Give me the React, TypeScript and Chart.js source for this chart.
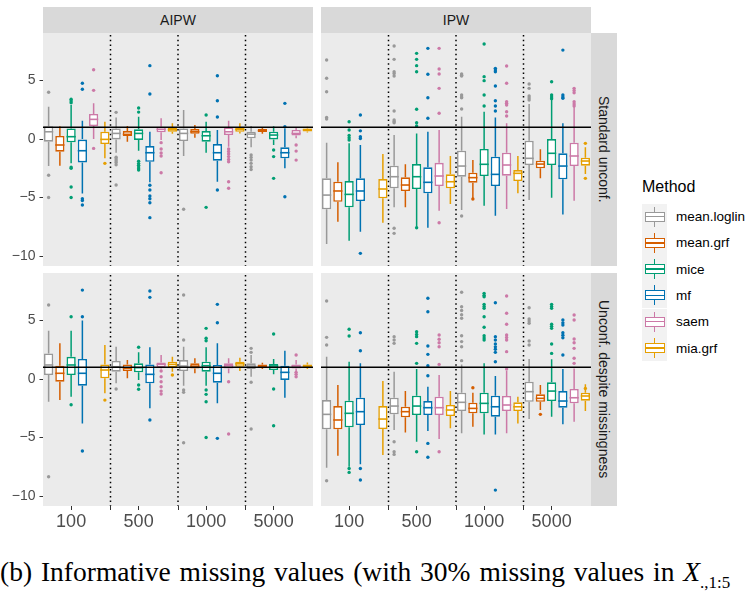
import React, { useEffect, useRef } from 'react';
import { Chart, registerables } from 'chart.js';

Chart.register(...registerables);

const sampleSizes = ['100', '500', '1000', '5000'];
const methods = ['mean.loglin', 'mean.grf', 'mice', 'mf', 'saem', 'mia.grf'];
const methodColors = ['#999999', '#D55E00', '#009E73', '#0072B2', '#CC79A7', '#E69F00'];
const estimators = ['AIPW', 'IPW'];
const scenarios = ['Standard unconf.', 'Unconf. despite missingness'];
const yTickValues = [-10, -5, 0, 5];
const trueEffect = 1;
const yMin = -10.85;
const yMax = 9.06;

// Box statistics per method (rows) and sample size (columns): [lower whisker, Q1, median, Q3, upper whisker]
const aipwStdBoxes = [
  [[-2.3, -0.23, 0.62, 1.1, 2.76], [-1.17, -0.03, 0.48, 0.91, 1.85], [-1.45, -0.17, 0.48, 0.91, 2.48], [-0.71, 0.06, 0.42, 0.63, 1.11]],
  [[-2.28, -1.08, -0.51, 0.26, 1.1], [-0.23, 0.26, 0.4, 0.68, 1.11], [0.1, 0.45, 0.62, 0.85, 1.2], [0.45, 0.6, 0.72, 0.85, 1.0]],
  [[-2.08, -0.28, 0.2, 0.91, 2.9], [-1.0, -0.08, 0.48, 0.83, 1.9], [-1.17, -0.23, 0.28, 0.68, 1.48], [-0.51, -0.03, 0.34, 0.63, 1.1]],
  [[-4.65, -2.0, -1.0, 0.0, 1.56], [-3.7, -1.94, -1.17, -0.6, 0.63], [-3.65, -1.85, -1.17, -0.43, 0.77], [-2.5, -1.65, -1.17, -0.71, 0.91]],
  [[0.0, 1.11, 1.68, 2.14, 3.05], [-0.08, 0.57, 0.83, 1.05, 1.77], [-0.66, 0.34, 0.62, 1.0, 1.56], [0.06, 0.3, 0.48, 0.77, 1.0]],
  [[-1.65, -0.43, -0.03, 0.62, 1.48], [0.45, 0.62, 0.8, 0.97, 1.34], [0.48, 0.62, 0.83, 1.0, 1.34], [0.55, 0.65, 0.78, 0.9, 1.05]],
];
const aipwStdOutliers = [
  [[4.0, -3.1, -5.0], [2.28, -1.55, -1.7, -1.85, -2.0, -2.2, -3.93], [-6.0], [-1.37, -1.57, -1.8, -2.08, -2.36, -2.6]],
  [[], [], [], []],
  [[3.1, 3.25, 3.4, -2.4, -2.5, -4.1, -5.0], [2.65, 2.3, -1.9, -2.1, -2.25, -2.4, -2.55, -2.65], [2.05, -5.84], [-0.94, -1.5, -3.36]],
  [[4.76, 4.25, -5.1, -5.25, -5.64], [6.27, 3.85, -3.95, -4.36, -4.87, -5.1, -5.44, -6.72], [5.41, 3.27, 1.88, -4.36], [1.05, 3.05, -4.93]],
  [[5.92, 4.16, -0.8], [-0.31, -0.85, -1.2, -1.45, -2.88], [-0.85, -1.07, -1.28, -1.5, -1.74, -1.94, -3.65, -4.2], [-0.51, -1.03, -1.8]],
  [[-2.08], [], [], []],
];

const aipwUncBoxes = [
  [[-1.94, 0.34, 1.2, 2.19, 4.13], [-0.37, 0.63, 1.05, 1.54, 2.76], [-0.57, 0.68, 1.11, 1.62, 2.76], [0.2, 0.85, 1.11, 1.34, 2.05]],
  [[-1.8, -0.23, 0.49, 1.14, 3.05], [0.06, 0.68, 0.91, 1.25, 1.62], [0.49, 0.91, 1.1, 1.34, 1.77], [0.85, 1.0, 1.1, 1.25, 1.4]],
  [[-1.51, 0.34, 1.2, 1.9, 4.13], [-0.08, 0.57, 0.97, 1.34, 2.28], [-0.57, 0.63, 1.14, 1.48, 2.71], [0.4, 0.77, 1.11, 1.28, 1.71]],
  [[-3.79, -0.57, 0.49, 1.71, 5.0], [-2.5, -0.37, 0.4, 1.25, 2.71], [-2.08, -0.31, 0.49, 1.2, 3.05], [-1.6, -0.08, 0.57, 1.14, 2.42]],
  [null, [0.9, 0.97, 1.25, 1.42, 2.05], [0.49, 0.91, 1.14, 1.34, 1.77], [0.63, 0.91, 1.11, 1.25, 1.62]],
  [[-1.22, 0.06, 0.77, 1.25, 2.9], [0.63, 0.97, 1.25, 1.48, 1.9], [0.68, 1.05, 1.3, 1.48, 1.82], [0.85, 0.95, 1.1, 1.25, 1.42]],
];
const aipwUncOutliers = [
  [[6.32, -8.35], [-0.85], [7.18, 3.33, -0.94, -1.14, -5.44], [2.62, 2.28, -0.28, -4.27]],
  [[], [], [], []],
  [[5.32, -2.2], [2.71, -0.51, -0.88], [4.33, 3.48, 3.27, -0.94, -1.31, -1.94, -5.0], [3.85, -0.85, -3.99]],
  [[7.6, 5.32, -6.15], [7.52, 6.98, -3.5], [6.38, 4.81, -5.07], []],
  [[], [0.68, 0.2, -0.23, -0.66, -1.03, -1.28], [-0.23, -4.7], [2.05, 0.57, 0.4, 0.2]],
  [[-1.8], [0.34], [], []],
];

const ipwStdBoxes = [
  [[-8.97, -6.01, -4.79, -3.36, -0.31], [-5.84, -4.21, -3.22, -2.28, 0.34], [-6.07, -3.22, -2.31, -1.0, 1.91], [-5.21, -2.22, -1.65, -0.14, 2.99]],
  [[-7.07, -5.36, -4.44, -3.65, -1.99], [-5.84, -4.44, -3.93, -3.27, -2.16], [-5.07, -3.73, -3.3, -2.88, -1.8], [-3.36, -2.5, -2.14, -1.85, -0.88]],
  [[-8.69, -5.84, -4.73, -3.59, -0.37], [-7.49, -4.27, -3.22, -2.14, 0.48], [-5.7, -3.16, -2.16, -0.85, 2.33], [-5.01, -2.22, -1.22, 0.0, 3.39]],
  [[-7.92, -5.3, -4.44, -3.36, -0.51], [-7.58, -4.64, -3.7, -2.42, 0.62], [-6.55, -4.02, -3.02, -1.51, 1.85], [-6.44, -3.44, -2.31, -1.22, 1.34]],
  [null, [-6.13, -4.02, -3.16, -2.03, 0.77], [-5.98, -3.13, -2.22, -1.17, 1.34], [-5.27, -2.31, -1.45, -0.31, 2.82]],
  [[-7.15, -5.07, -4.27, -3.42, -1.28], [-5.56, -4.21, -3.65, -3.02, -1.45], [-4.64, -3.59, -2.93, -2.65, -1.45], [-2.99, -2.28, -1.88, -1.6, -0.71]],
];
const ipwStdOutliers = [
  [[6.75, 5.19, 4.04, 1.85, 1.71], [7.95, 6.81, 5.75, 5.6, 5.38, 2.39, 1.62, 1.5, 1.39, -7.63, -8.06], [5.56, 5.45, 5.38, 3.76, 3.6, 3.53, 2.56, -6.58], [4.7, 4.33, 3.68, 3.5, 3.33]],
  [[], [], [-5.13], []],
  [[1.48, 0.77, 0.3, 0.1, -0.08], [7.32, 6.81, 6.27, 5.75, 2.54, 1.39, 1.11, -7.58], [8.12, 5.33, 4.99, 3.76, 2.82], [4.9, 3.76, 3.6, 3.45]],
  [[2.05, 0.7, 0.2, 0.05, -9.77], [7.75, 5.53, 3.53, 1.77], [6.04, 5.9, 5.75, 4.53, 3.27, 2.82, 2.39], [7.6, 3.76, 3.6, 3.48]],
  [[], [7.75, 5.98, 5.56, 4.33, 2.2, -7.15], [6.24, 4.76, 3.19, 3.05, 2.91, 2.33, 1.97], [4.33, 4.15, 3.96, 3.19, 3.0, 2.82]],
  [[], [], [], [-0.37, -3.36]],
];

const ipwUncBoxes = [
  [[-7.58, -4.3, -3.02, -1.8, 1.91], [-4.36, -3.02, -2.31, -1.6, 0.63], [-4.64, -2.74, -1.99, -1.17, 1.25], [-3.42, -1.94, -1.08, -0.23, 1.71]],
  [[-6.55, -4.3, -3.5, -2.31, -0.51], [-4.56, -3.27, -2.79, -2.37, -1.03], [-4.07, -2.93, -2.51, -2.02, -1.17], [-2.65, -1.94, -1.65, -1.31, -0.51]],
  [[-7.5, -4.13, -2.93, -1.85, 1.48], [-5.36, -3.08, -2.31, -1.42, 0.85], [-4.73, -2.93, -2.08, -1.17, 1.34], [-3.22, -1.88, -1.03, -0.28, 1.68]],
  [[-7.29, -3.93, -2.79, -1.6, 1.34], [-4.44, -3.08, -2.45, -1.88, -0.66], [-4.73, -3.22, -2.37, -1.42, 0.26], [-3.87, -2.45, -1.88, -1.03, 0.85]],
  [null, [-5.13, -3.08, -2.45, -1.51, 0.34], [-4.64, -2.74, -2.22, -1.45, 0.68], [-3.65, -2.08, -1.6, -0.85, 0.91]],
  [[-6.5, -4.27, -3.42, -2.31, -0.17], [-4.21, -3.16, -2.65, -2.22, -1.03], [-3.79, -2.74, -2.37, -1.99, -1.51], [-2.74, -1.85, -1.45, -1.17, -0.45]],
];
const ipwUncOutliers = [
  [[6.67, 3.56, 2.91, -8.69], [3.62, 3.33, 3.05, -5.36, -6.21, -6.44], [7.41, 6.18, 5.85, 5.5, 5.19, 3.7, 3.2, 2.76, 1.57], [6.09, 5.13, 4.95, 4.76, 3.25, 2.91]],
  [[], [], [-0.74], [-3.02]],
  [[4.25, 3.68, -7.64, -7.98], [4.04, 3.8, 3.62, 3.05, 1.34, -6.21], [7.32, 7.15, 7.03, 6.38, 6.2, 6.04, 5.32, 4.42, 3.7, 3.5, 3.33], [6.38, 6.2, 6.04, 4.68, 4.5, 4.33, 2.99, 2.19]],
  [[3.96, 2.42, -7.64, -8.63], [6.9, 5.75, 2.82, 2.11, 1.14, 0.28, -5.5, -6.69], [6.52, 3.62, 3.33, 3.0, 2.75, 2.55, 2.28, 1.48, -9.49], [5.04, 4.8, 4.62, 3.96, 3.75, 3.53, 2.05]],
  [[], [3.76, 3.4, 3.1, 2.76, 1.25, -6.21], [7.09, 5.62, 4.68, 3.76, 3.55, 3.33, 2.34, 0.85], [5.47, 5.04, 3.42, 3.1, 2.62, 1.77, 1.34]],
  [[], [], [], [-0.8]],
];

const SANS = '"Liberation Sans", Arial, Helvetica, sans-serif';
const PANEL_W = 270;
const PANEL_H = 233;
const Y_AXIS_W = 43;
const X_AXIS_H = 30;

const fmtMinus = (v: number) => (v < 0 ? '\u2212' + Math.abs(v) : String(v));

const boxPlugin = {
  id: 'boxExtras',
  beforeDraw(chart: any) {
    const { ctx, chartArea: a } = chart;
    ctx.save();
    ctx.fillStyle = '#EBEBEB';
    ctx.fillRect(a.left, a.top, a.right - a.left, a.bottom - a.top);
    ctx.restore();
  },
  beforeDatasetsDraw(chart: any) {
    const { ctx, chartArea: a, scales } = chart;
    const xs = scales.x;
    const ys = scales.y;
    ctx.save();
    ctx.beginPath();
    ctx.rect(a.left, a.top, a.right - a.left, a.bottom - a.top);
    ctx.clip();
    ctx.strokeStyle = '#000000';
    ctx.lineWidth = 1.5;
    ctx.setLineDash([1.5, 3.2]);
    for (let g = 1; g < sampleSizes.length; g++) {
      const px = (xs.getPixelForValue(g - 1) + xs.getPixelForValue(g)) / 2;
      ctx.beginPath();
      ctx.moveTo(px, a.top + 2);
      ctx.lineTo(px, a.bottom);
      ctx.stroke();
    }
    ctx.setLineDash([]);
    chart.data.datasets.forEach((ds: any, i: number) => {
      const meta = chart.getDatasetMeta(i);
      ctx.strokeStyle = ds.borderColor;
      ctx.lineWidth = 1.5;
      meta.data.forEach((el: any, j: number) => {
        const s = ds.stats[j];
        if (!s) return;
        const x = el.x;
        ctx.beginPath();
        ctx.moveTo(x, ys.getPixelForValue(s[0]));
        ctx.lineTo(x, ys.getPixelForValue(s[1]));
        ctx.moveTo(x, ys.getPixelForValue(s[3]));
        ctx.lineTo(x, ys.getPixelForValue(s[4]));
        ctx.stroke();
      });
    });
    ctx.restore();
  },
  afterDatasetsDraw(chart: any) {
    const { ctx, chartArea: a, scales } = chart;
    const ys = scales.y;
    ctx.save();
    ctx.beginPath();
    ctx.rect(a.left, a.top, a.right - a.left, a.bottom - a.top);
    ctx.clip();
    chart.data.datasets.forEach((ds: any, i: number) => {
      const meta = chart.getDatasetMeta(i);
      ctx.strokeStyle = ds.borderColor;
      ctx.fillStyle = ds.borderColor;
      ctx.lineWidth = 1.6;
      meta.data.forEach((el: any, j: number) => {
        const s = ds.stats[j];
        if (!s) return;
        const x = el.x;
        const w = el.width;
        const my = ys.getPixelForValue(s[2]);
        ctx.beginPath();
        ctx.moveTo(x - w / 2, my);
        ctx.lineTo(x + w / 2, my);
        ctx.stroke();
        (ds.outliers[j] || []).forEach((v: number) => {
          ctx.beginPath();
          ctx.arc(x, ys.getPixelForValue(v), 1.7, 0, Math.PI * 2);
          ctx.fill();
        });
      });
    });
    const ry = ys.getPixelForValue(trueEffect);
    ctx.strokeStyle = '#000000';
    ctx.lineWidth = 1.4;
    ctx.beginPath();
    ctx.moveTo(a.left, ry);
    ctx.lineTo(a.right, ry);
    ctx.stroke();
    ctx.restore();
  },
};

type PanelProps = {
  boxes: any[];
  outliers: number[][][];
  showY: boolean;
  showX: boolean;
  left: number;
  top: number;
};

function Panel({ boxes, outliers, showY, showX, left, top }: PanelProps) {
  const ref = useRef<HTMLCanvasElement>(null);
  const width = PANEL_W + (showY ? Y_AXIS_W : 0);
  const height = PANEL_H + (showX ? X_AXIS_H : 0);
  useEffect(() => {
    if (!ref.current) return;
    const xTickVals: number[] = [];
    sampleSizes.forEach((_, g) => {
      xTickVals.push(g + 1 - 1 / 12);
      if (g < sampleSizes.length - 1) xTickVals.push(g + 1.5);
    });
    const chart = new Chart(ref.current, {
      type: 'bar',
      data: {
        labels: sampleSizes,
        datasets: methods.map((m, i) => ({
          label: m,
          data: boxes[i].map((b: any) => (b ? [b[1], b[3]] : null)),
          backgroundColor: '#FFFFFF',
          borderColor: methodColors[i],
          borderWidth: 1.6,
          borderSkipped: false,
          categoryPercentage: 1,
          barPercentage: 0.82,
          stats: boxes[i],
          outliers: outliers[i],
        })) as any,
      },
      options: {
        responsive: false,
        animation: false,
        layout: { padding: 0 },
        plugins: { legend: { display: false }, tooltip: { enabled: false } },
        scales: {
          x: { type: 'category', display: false, offset: true },
          xt: {
            type: 'linear',
            position: 'bottom',
            display: showX,
            offset: false,
            min: 0.5,
            max: 4.5,
            afterBuildTicks: (s: any) => {
              s.ticks = xTickVals.map((v) => ({ value: v }));
            },
            ticks: {
              autoSkip: false,
              maxRotation: 0,
              minRotation: 0,
              padding: 1,
              color: '#4D4D4D',
              font: { family: SANS, size: 18 },
              callback: (_v: any, idx: number) => (idx % 2 === 0 ? sampleSizes[idx / 2] : ''),
            },
            grid: { offset: false, drawOnChartArea: false, drawTicks: true, tickLength: 4, tickColor: '#333333', tickWidth: 1 },
            border: { display: false },
            afterFit: (s: any) => {
              if (!showX) return;
              s.height = X_AXIS_H;
              s.paddingLeft = 0;
              s.paddingRight = 0;
            },
          },
          y: {
            type: 'linear',
            display: showY,
            min: yMin,
            max: yMax,
            afterBuildTicks: (s: any) => {
              s.ticks = yTickValues.map((v) => ({ value: v }));
            },
            ticks: {
              padding: 4,
              color: '#4D4D4D',
              font: { family: SANS, size: 14 },
              callback: (v: any) => fmtMinus(Number(v)),
            },
            grid: { drawOnChartArea: false, drawTicks: true, tickLength: 3.5, tickColor: '#333333', tickWidth: 1 },
            border: { display: false },
            afterFit: (s: any) => {
              if (!showY) return;
              s.width = Y_AXIS_W;
              s.paddingTop = 0;
              s.paddingBottom = 0;
            },
          },
        },
      } as any,
      plugins: [boxPlugin],
    });
    return () => chart.destroy();
  }, []);
  return (
    <div style={{ position: 'absolute', left, top, width, height }}>
      <canvas ref={ref} width={width} height={height} style={{ display: 'block', width, height }} />
    </div>
  );
}

function LegendKey({ color, top }: { color: string; top: number }) {
  return (
    <div style={{ position: 'absolute', left: 642, top, width: 25, height: 26, background: '#F2F2F2' }}>
      <div style={{ position: 'absolute', left: 11.75, top: 3, width: 1.5, height: 20, background: color }} />
      <div
        style={{
          position: 'absolute',
          left: 2.5,
          top: 8,
          width: 20,
          height: 10,
          boxSizing: 'border-box',
          border: `1.5px solid ${color}`,
          background: '#FFFFFF',
        }}
      />
      <div style={{ position: 'absolute', left: 2.5, top: 12.25, width: 20, height: 1.5, background: color }} />
    </div>
  );
}

export default function App() {
  const panelLefts = [43, 321];
  const panelTops = [33, 273];
  const stripStyle: React.CSSProperties = {
    position: 'absolute',
    background: '#D9D9D9',
    color: '#1A1A1A',
    fontFamily: SANS,
    fontSize: 14,
    display: 'flex',
    alignItems: 'center',
    justifyContent: 'center',
    whiteSpace: 'nowrap',
  };
  return (
    <div style={{ position: 'absolute', left: 0, top: 0, width: 746, height: 596, overflow: 'hidden', background: '#FFFFFF' }}>
      <Panel boxes={aipwStdBoxes} outliers={aipwStdOutliers} showY={true} showX={false} left={0} top={panelTops[0]} />
      <Panel boxes={ipwStdBoxes} outliers={ipwStdOutliers} showY={false} showX={false} left={panelLefts[1]} top={panelTops[0]} />
      <Panel boxes={aipwUncBoxes} outliers={aipwUncOutliers} showY={true} showX={true} left={0} top={panelTops[1]} />
      <Panel boxes={ipwUncBoxes} outliers={ipwUncOutliers} showY={false} showX={true} left={panelLefts[1]} top={panelTops[1]} />
      {estimators.map((e, i) => (
        <div key={e} style={{ ...stripStyle, left: panelLefts[i], top: 7, width: PANEL_W, height: 26 }}>
          {e}
        </div>
      ))}
      {scenarios.map((s, i) => (
        <div
          key={s}
          style={{ ...stripStyle, left: panelLefts[1] + PANEL_W, top: panelTops[i], width: 26, height: PANEL_H, writingMode: 'vertical-rl' }}
        >
          {s}
        </div>
      ))}
      <div style={{ position: 'absolute', left: 642, top: 178, fontFamily: SANS, fontSize: 16, lineHeight: '18px', color: '#000000' }}>
        Method
      </div>
      {methods.map((m, i) => (
        <React.Fragment key={m}>
          <LegendKey color={methodColors[i]} top={203.5 + i * 26.3} />
          <div
            style={{
              position: 'absolute',
              left: 676,
              top: 203.5 + i * 26.3,
              height: 26,
              display: 'flex',
              alignItems: 'center',
              fontFamily: SANS,
              fontSize: 13.5,
              color: '#000000',
              whiteSpace: 'nowrap',
            }}
          >
            {m}
          </div>
        </React.Fragment>
      ))}
      <div
        style={{
          position: 'absolute',
          left: 0,
          top: 556,
          fontFamily: '"Liberation Serif", "Times New Roman", serif',
          fontSize: 27.5,
          wordSpacing: '2px',
          lineHeight: '32px',
          color: '#000000',
          whiteSpace: 'nowrap',
        }}
      >
        (b) Informative missing values (with 30% missing values in <i>X</i>
        <sub style={{ fontSize: 17, lineHeight: 0 }}>.,1:5</sub>
      </div>
    </div>
  );
}
